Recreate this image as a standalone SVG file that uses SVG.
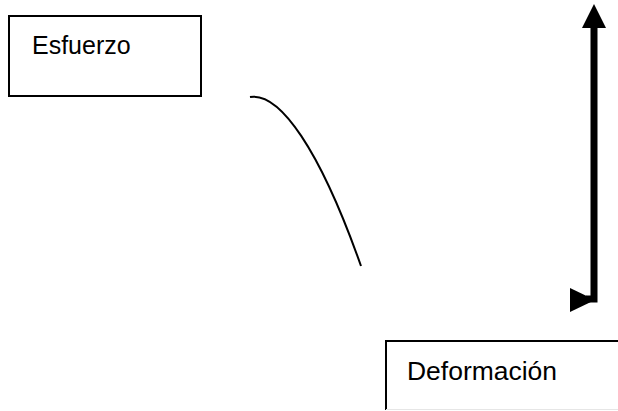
<svg xmlns="http://www.w3.org/2000/svg" width="618" height="411" viewBox="0 0 618 411">
<style>
.box{fill:#fff;stroke:#000;stroke-width:2}
.lbl{font-family:"Liberation Sans",Arial,sans-serif;font-size:25px;fill:#000}
</style>
<rect width="618" height="411" fill="#fff"/>
<g id="esfuerzo">
<rect class="box" x="9" y="16" width="192" height="80"/>
<text class="lbl" x="32" y="54">Esfuerzo</text>
</g>
<g id="deformacion">
<path d="M619 341 H386 V410" fill="#fff" stroke="#000" stroke-width="2"/>
<line x1="386" y1="409.5" x2="618" y2="409.5" stroke="#e6e6e6" stroke-width="1"/>
<text class="lbl" x="407" y="380" textLength="150" lengthAdjust="spacingAndGlyphs">Deformación</text>
</g>
<g id="connectors">
<path d="M250 97 C280 92 320 150 361 266" fill="none" stroke="#000" stroke-width="2"/>
<path d="M594 26 V299 H586" fill="none" stroke="#000" stroke-width="7"/>
<polygon points="594,4 606,28 582,28" fill="#000"/>
<polygon points="570,288 595,300 570,312" fill="#000"/>
</g>
</svg>
